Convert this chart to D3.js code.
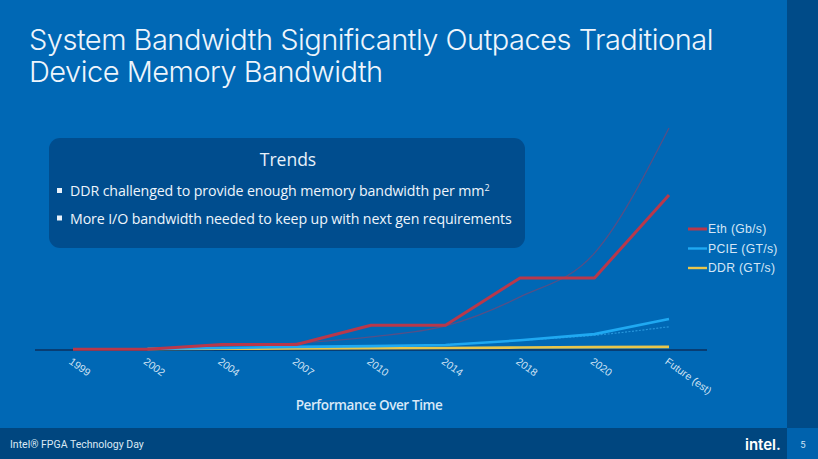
<!DOCTYPE html>
<html>
<head>
<meta charset="utf-8">
<script src="https://cdn.jsdelivr.net/npm/d3@7"></script>
<style>
  html, body { margin: 0; padding: 0; background: #0068b5; }
  svg { display: block; }
</style>
</head>
<body>
<div id="main"></div>
<script>
// categories and series (arbitrary bandwidth units)
var years = ['1999', '2002', '2004', '2007', '2010', '2014', '2018', '2020', 'Future (est)'];
var eth = [2, 2, 14, 14, 64, 64, 186, 186, 400];
var pcie = [null, 2.6, 5, 8, 10, 13, 25, 41, 80];
var ddr = [null, 2.6, 3.2, 4, 4.8, 5.2, 6.4, 7.5, 8];
var ethTrend = [null, 5, 10, 18, 34, 62, 137, 250, 573];
var pcieTrend = [null, null, null, 6, 9, 14, 25, 38, 60];
var legendLabels = ['Eth (Gb/s)', 'PCIE (GT/s)', 'DDR (GT/s)'];
var colors = ['#b8384b', '#1fa9f2', '#e9c64b'];

var W = 818, H = 459;
var svg = d3.select('#main').append('svg')
    .attr('width', W).attr('height', H);

// background pieces
svg.append('rect').attr('width', W).attr('height', H).attr('fill', '#0068b5');
svg.append('rect').attr('x', 787).attr('y', 0).attr('width', W - 787).attr('height', 428).attr('fill', '#004b88');
svg.append('rect').attr('x', 0).attr('y', 428).attr('width', 787).attr('height', H - 428).attr('fill', '#00467f');
svg.append('rect').attr('x', 787).attr('y', 428).attr('width', W - 787).attr('height', H - 428).attr('fill', '#0062ad');

// title
var title = svg.append('text')
    .attr('font-family', 'Inter, sans-serif')
    .attr('font-weight', 300)
    .attr('font-size', 29)
    .attr('letter-spacing', -0.5)
    .attr('fill', '#eef5fc');
title.append('tspan').attr('x', 29).attr('y', 50).text('System Bandwidth Significantly Outpaces Traditional');
title.append('tspan').attr('x', 29).attr('y', 82).text('Device Memory Bandwidth');

// scales
var x = d3.scalePoint().domain(years).range([73, 669]);
var y = d3.scaleLinear().domain([0, 400]).range([350, 195]);

var chart = svg.append('g');

// x axis baseline
chart.append('line')
    .attr('x1', 35).attr('x2', 707)
    .attr('y1', y(0)).attr('y2', y(0))
    .attr('stroke', '#0b2f5e').attr('stroke-width', 1.6);

var xAxis = d3.axisBottom(x).tickSize(0).tickPadding(0);
var xAxisEl = chart.append('g')
    .attr('transform', 'translate(0,' + (y(0) + 10) + ')')
    .call(xAxis);
xAxisEl.select('.domain').remove();
xAxisEl.selectAll('text')
    .attr('font-family', '"Liberation Sans", Arial, sans-serif')
    .attr('font-size', 10.5)
    .attr('fill', '#cfe2f4')
    .attr('text-anchor', 'start')
    .attr('dy', '0.35em')
    .attr('transform', 'translate(-3,0) rotate(36)');

// axis title
svg.append('text')
    .attr('x', 369).attr('y', 410)
    .attr('text-anchor', 'middle')
    .attr('font-family', '"Open Sans", sans-serif')
    .attr('font-weight', 600)
    .attr('font-size', 13.5)
    .attr('letter-spacing', -0.4)
    .attr('fill', '#d8e9f8')
    .text('Performance Over Time');

function lineOf(vals, curve) {
    return d3.line()
        .defined(function (d) { return d != null; })
        .x(function (d, i) { return x(years[i]); })
        .y(function (d) { return y(d); })
        .curve(curve || d3.curveLinear)(vals);
}

// trend lines (faint)
chart.append('path')
    .attr('d', lineOf(ethTrend, d3.curveMonotoneX))
    .attr('fill', 'none')
    .attr('stroke', '#a8385a').attr('stroke-opacity', 0.5)
    .attr('stroke-width', 1.3);
chart.append('path')
    .attr('d', lineOf(pcieTrend, d3.curveMonotoneX))
    .attr('fill', 'none')
    .attr('stroke', '#3fb4f5').attr('stroke-opacity', 0.6)
    .attr('stroke-dasharray', '2,1.5')
    .attr('stroke-width', 1.2);

// series
var series = [ddr, pcie, eth];
var seriesColors = [colors[2], colors[1], colors[0]];
var widths = [2.6, 2.6, 3];
series.forEach(function (s, k) {
    chart.append('path')
        .attr('d', lineOf(s))
        .attr('fill', 'none')
        .attr('stroke', seriesColors[k])
        .attr('stroke-width', widths[k])
        .attr('stroke-linejoin', 'round');
});

// legend
var legend = svg.append('g').attr('transform', 'translate(688,229)');
legendLabels.forEach(function (lab, i) {
    var g = legend.append('g').attr('transform', 'translate(0,' + (i * 19.5) + ')');
    g.append('line').attr('x1', 0).attr('x2', 19).attr('y1', 0).attr('y2', 0)
        .attr('stroke', colors[i]).attr('stroke-width', i == 0 ? 3 : 2.4);
    g.append('text').attr('x', 20).attr('y', 0).attr('dy', '0.35em')
        .attr('font-family', '"Liberation Sans", Arial, sans-serif')
        .attr('font-size', 12.2)
        .attr('letter-spacing', 0.3)
        .attr('fill', '#d4e6f6')
        .text(lab);
});

// trends box
var box = svg.append('g');
box.append('rect')
    .attr('x', 49).attr('y', 138).attr('width', 476).attr('height', 110)
    .attr('rx', 11)
    .attr('fill', '#004d8e');
box.append('text')
    .attr('x', 288).attr('y', 166)
    .attr('text-anchor', 'middle')
    .attr('font-family', '"Open Sans", sans-serif')
    .attr('font-size', 17.5)
    .attr('fill', '#e8f1fa')
    .text('Trends');
var bullets = ['DDR challenged to provide enough memory bandwidth per mm', 'More I/O bandwidth needed to keep up with next gen requirements'];
bullets.forEach(function (b, i) {
    var by = 196 + i * 27.5;
    box.append('rect').attr('x', 57).attr('y', by - 8).attr('width', 5).attr('height', 5)
        .attr('fill', '#e8f1fa');
    var t = box.append('text')
        .attr('x', 70).attr('y', by)
        .attr('font-family', '"Open Sans", sans-serif')
        .attr('font-size', 14.2)
        .attr('letter-spacing', -0.1)
        .attr('fill', '#eef5fc')
        .text(b);
    if (i == 0) {
        t.append('tspan').attr('dy', -5).attr('font-size', 9).text('2');
    }
});

// footer
svg.append('text')
    .attr('x', 10).attr('y', 448)
    .attr('font-family', 'Roboto, sans-serif')
    .attr('font-size', 10.5)
    .attr('fill', '#dbe8f4')
    .text('Intel® FPGA Technology Day');
svg.append('text')
    .attr('x', 745).attr('y', 450)
    .attr('font-family', 'Inter, sans-serif')
    .attr('font-weight', 600)
    .attr('font-size', 15)
    .attr('fill', '#ffffff')
    .text('intel.');
svg.append('text')
    .attr('x', 803).attr('y', 448)
    .attr('text-anchor', 'middle')
    .attr('font-family', 'Roboto, sans-serif')
    .attr('font-size', 9.5)
    .attr('fill', '#cfe2f4')
    .text('5');
</script>
</body>
</html>
